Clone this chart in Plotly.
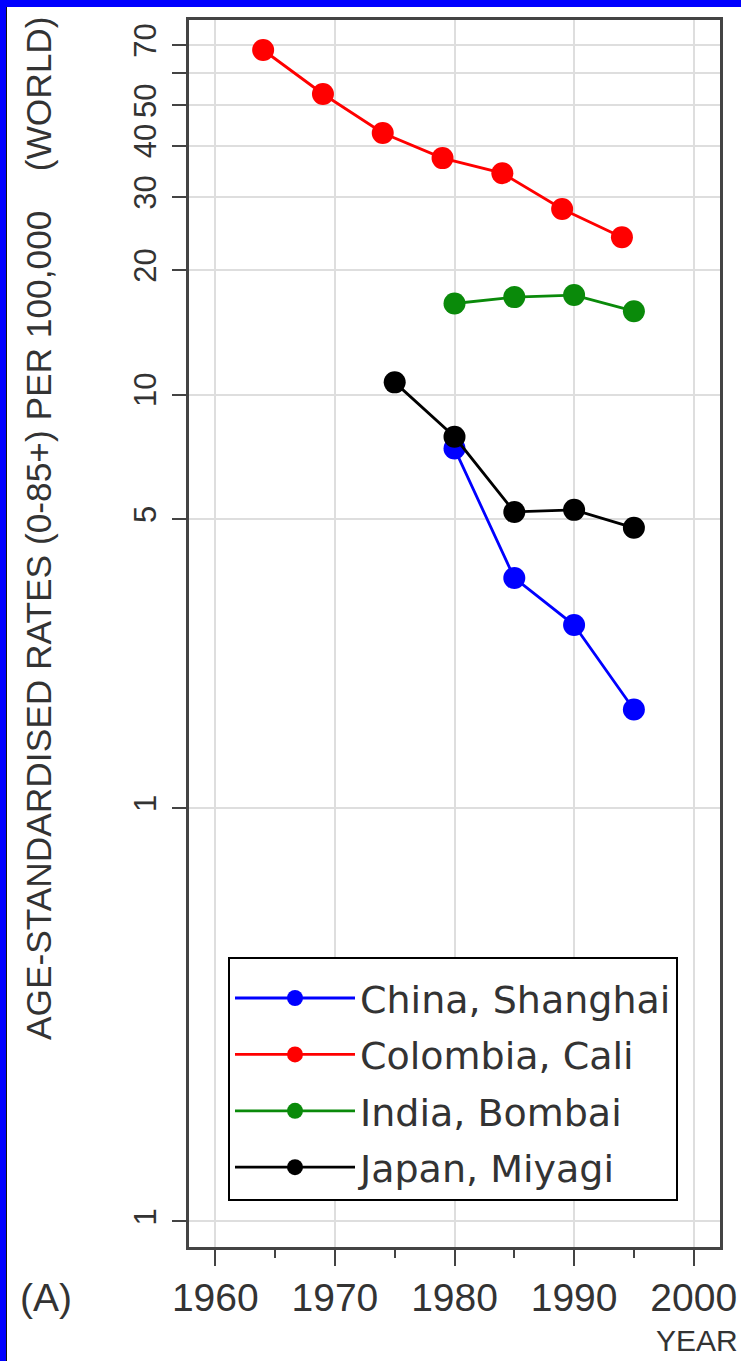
import plotly.graph_objects as go

# ---- data ----
series_names = ["China, Shanghai", "Colombia, Cali", "India, Bombai", "Japan, Miyagi"]
series_colors = ["#0000ff", "#ff0000", "#0a8a0a", "#000000"]

years_china = [1980, 1985, 1990, 1995]
rates_china = [7.4, 3.6, 2.77, 1.73]

years_colombia = [1964, 1969, 1974, 1979, 1984, 1989, 1994]
rates_colombia = [68.1, 53.3, 42.9, 37.3, 34.3, 28.1, 24.0]

years_india = [1980, 1985, 1990, 1995]
rates_india = [16.6, 17.2, 17.4, 15.9]

years_japan = [1975, 1980, 1985, 1990, 1995]
rates_japan = [10.7, 7.9, 5.2, 5.26, 4.76]

x_tick_vals = [1960, 1970, 1980, 1990, 2000]
y_tick_vals = [0.1, 1, 5, 10, 20, 30, 40, 50, 60, 70]
y_tick_text = ["1", "1", "5", "10", "20", "30", "40", "50", "", "70"]

all_years = [years_china, years_colombia, years_india, years_japan]
all_rates = [rates_china, rates_colombia, rates_india, rates_japan]

# ---- layout geometry (pixels) ----
W, H = 741, 1361
ML, MR, MT, MB = 189, 21, 20, 114
PW = W - ML - MR
PH = H - MT - MB


def px_x(px):
    return (px - ML) / PW


def px_y(py):
    return (H - MB - py) / PH


NARROW = "Liberation Sans Narrow, Liberation Sans, Arial Narrow, sans-serif"
TXT = "#333333"

fig = go.Figure()
for i, name in enumerate(series_names):
    fig.add_trace(go.Scatter(
        x=all_years[i], y=all_rates[i], name=name, mode="lines+markers",
        line=dict(color=series_colors[i], width=2.8),
        marker=dict(color=series_colors[i], size=22),
        legendgroup=name,
    ))

fig.update_layout(
    width=W, height=H,
    margin=dict(l=ML, r=MR, t=MT, b=MB, pad=0, autoexpand=False),
    paper_bgcolor="white", plot_bgcolor="white",
    showlegend=True,
    legend=dict(
        x=px_x(228), y=px_y(957), xanchor="left", yanchor="top",
        bgcolor="white", bordercolor="black", borderwidth=2,
        font=dict(family="DejaVu Sans, sans-serif", size=38, color=TXT),
        title=dict(text="\u00a0", font=dict(size=6)),
        itemwidth=120, tracegroupgap=4, traceorder="grouped",
    ),
    xaxis=dict(
        range=[1957.8, 2002.2], tickvals=x_tick_vals, automargin=False,
        showgrid=True, gridcolor="#dedede", gridwidth=2,
        showline=True, linecolor="#444444", linewidth=3, mirror=True,
        ticks="outside", ticklen=16, tickwidth=2, tickcolor="#444444",
        minor=dict(dtick=5, tick0=1955, ticks="outside", ticklen=8, tickwidth=2,
                   tickcolor="#444444", showgrid=False),
        tickfont=dict(family=NARROW, size=39, color=TXT),
        ticklabelstandoff=-2, zeroline=False,
    ),
    yaxis=dict(
        type="log", range=[-1.0617, 1.9057], automargin=False,
        tickvals=y_tick_vals, ticktext=y_tick_text, tickangle=-90,
        showgrid=True, gridcolor="#dedede", gridwidth=2,
        showline=True, linecolor="#444444", linewidth=3, mirror=True,
        ticks="outside", ticklen=14, tickwidth=2, tickcolor="#444444",
        tickfont=dict(family=NARROW, size=31, color=TXT),
        ticklabelstandoff=4, zeroline=False,
    ),
    shapes=[
        dict(type="rect", xref="paper", yref="paper",
             x0=px_x(0), x1=px_x(6), y0=px_y(H), y1=px_y(0),
             fillcolor="#0000ff", line=dict(width=0), layer="above"),
        dict(type="rect", xref="paper", yref="paper",
             x0=px_x(0), x1=px_x(W), y0=px_y(7), y1=px_y(0),
             fillcolor="#0000ff", line=dict(width=0), layer="above"),
        dict(type="line", xref="paper", yref="paper",
             x0=px_x(6.5), x1=px_x(6.5), y0=px_y(H), y1=px_y(7),
             line=dict(color="#111111", width=1), layer="above"),
    ],
    annotations=[
        dict(text="AGE-STANDARDISED RATES (0-85+) PER 100,000\u00a0\u00a0\u00a0\u00a0(WORLD)",
             xref="paper", yref="paper", x=px_x(38), y=px_y(528),
             xanchor="center", yanchor="middle", textangle=-90, showarrow=False,
             font=dict(family=NARROW, size=35.3, color=TXT)),
        dict(text="(A)", xref="paper", yref="paper", x=px_x(46), y=px_y(1297),
             xanchor="center", yanchor="middle", showarrow=False,
             font=dict(family=NARROW, size=39, color=TXT)),
        dict(text="YEAR", xref="paper", yref="paper", x=px_x(697), y=px_y(1340),
             xanchor="center", yanchor="middle", showarrow=False,
             font=dict(family=NARROW, size=30, color=TXT)),
    ],
)

fig.write_html("out.html", config={"displayModeBar": False},
               post_script="document.body.style.margin='0';")
